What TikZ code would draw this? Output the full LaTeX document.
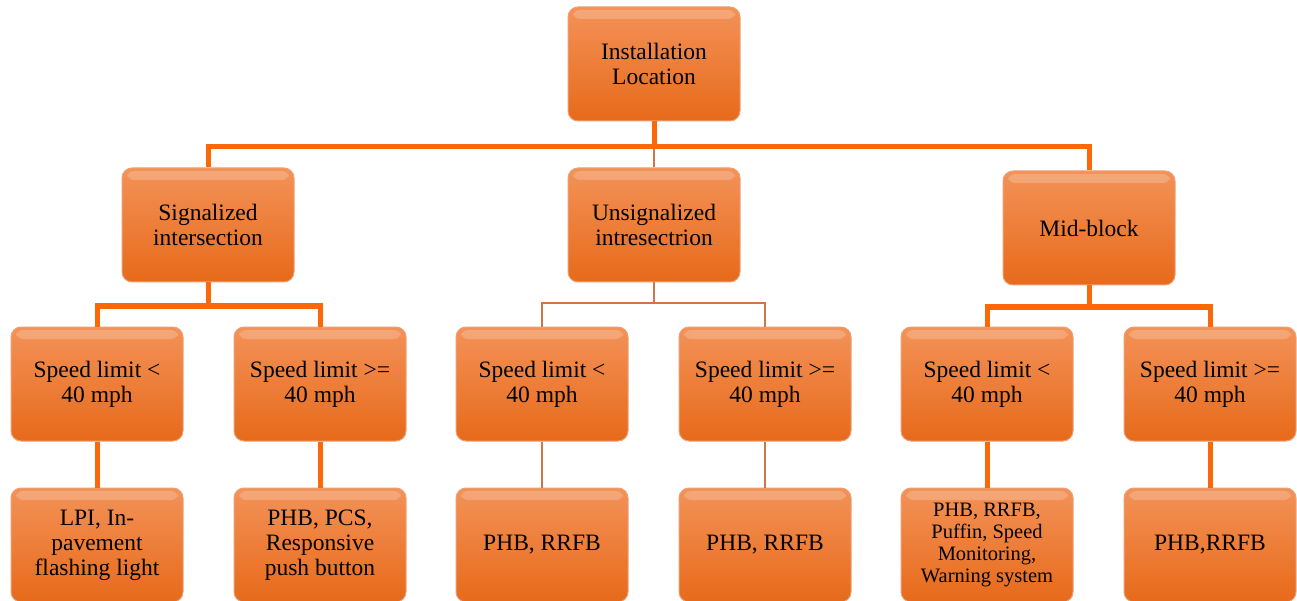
\documentclass[tikz,border=0pt]{standalone}
\usepackage{fontspec}
\setmainfont{Liberation Serif}
\definecolor{boxtop}{RGB}{243,146,88}
\definecolor{boxbot}{RGB}{231,106,26}
\definecolor{boxrim}{RGB}{236,160,118}
\definecolor{trunkcol}{RGB}{252,104,8}
\definecolor{twigcol}{RGB}{206,118,72}

\begin{document}
\begin{tikzpicture}[x=1pt,y=-1pt,
  box/.style={rounded corners=10pt, minimum width=172pt, minimum height=114pt,
    inner sep=0pt, align=center, top color=boxtop, bottom color=boxbot,
    draw=boxrim, line width=1pt, font=\fontsize{23.5}{25}\selectfont,
    path picture={\fill[white,opacity=0.2,rounded corners=7pt]
      ([xshift=5pt,yshift=-3pt]path picture bounding box.north west) rectangle
      ([xshift=-5pt,yshift=-12pt]path picture bounding box.north east);}},
  trunk/.style={draw=trunkcol, line width=5pt},
  twig/.style={draw=twigcol, line width=2pt}]
\useasboundingbox (0,0) rectangle (1297,601);

% top
\node[box] (root) at (654,64) {Installation\\Location};

% location types
\node[box] (sig) at (208,225) {Signalized\\intersection};
\node[box] (uns) at (654,225) {Unsignalized\\intresectrion};
\node[box] (mid) at (1089,228) {Mid-block};

% speed limits
\node[box] (sigA) at (97,384) {Speed limit <\\40 mph};
\node[box] (sigB) at (320,384) {Speed limit >=\\40 mph};
\node[box] (unsA) at (542,384) {Speed limit <\\40 mph};
\node[box] (unsB) at (765,384) {Speed limit >=\\40 mph};
\node[box] (midA) at (987,384) {Speed limit <\\40 mph};
\node[box] (midB) at (1210,384) {Speed limit >=\\40 mph};

% treatments
\node[box] (sigAt) at (97,545) {LPI, In-\\pavement\\flashing light};
\node[box] (sigBt) at (320,545) {PHB, PCS,\\Responsive\\push button};
\node[box] (unsAt) at (542,545) {PHB, RRFB};
\node[box] (unsBt) at (765,545) {PHB, RRFB};
\node[box, font=\fontsize{20.5}{22}\selectfont] (midAt) at (987,545) {PHB, RRFB,\\Puffin, Speed\\Monitoring,\\Warning system};
\node[box] (midBt) at (1210,545) {PHB,RRFB};

% junctions
\coordinate (j0) at (654,147);
\coordinate (jsig) at (208,306);
\coordinate (juns) at (654,303);
\coordinate (jmid) at (1089,307);

\draw[twig] (j0) -- (uns.north);
\draw[trunk] (root.south) -- (j0);
\draw[trunk] (j0) -| (sig.north);
\draw[trunk] (j0) -| (mid.north);

\draw[trunk] (sig.south) -- (jsig);
\draw[trunk] (jsig) -| (sigA.north);
\draw[trunk] (jsig) -| (sigB.north);
\draw[twig] (uns.south) -- (juns);
\draw[twig] (juns) -| (unsA.north);
\draw[twig] (juns) -| (unsB.north);
\draw[trunk] (mid.south) -- (jmid);
\draw[trunk] (jmid) -| (midA.north);
\draw[trunk] (jmid) -| (midB.north);

\draw[trunk] (sigA) -- (sigAt);
\draw[trunk] (sigB) -- (sigBt);
\draw[twig] (unsA) -- (unsAt);
\draw[twig] (unsB) -- (unsBt);
\draw[trunk] (midA) -- (midAt);
\draw[trunk] (midB) -- (midBt);
\end{tikzpicture}
\end{document}
